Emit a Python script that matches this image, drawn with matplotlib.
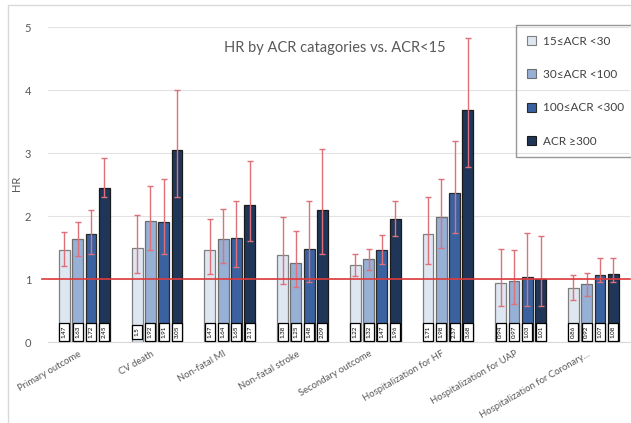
import matplotlib
matplotlib.use("Agg")
import matplotlib.pyplot as plt
import matplotlib.transforms as mtransforms
import numpy as np
from matplotlib.patches import Rectangle

plt.rcParams['font.family'] = ['Lato', 'DejaVu Sans']

categories = ["Primary outcome", "CV death", "Non-fatal MI", "Non-fatal stroke",
              "Secondary outcome", "Hospitalization for HF", "Hospitalization for UAP",
              "Hospitalization for Coronary..."]
series_names = ["15\u2264ACR <30", "30\u2264ACR <100", "100\u2264ACR <300", "ACR \u2265300"]

hr_15_30 = [1.47, 1.5, 1.47, 1.38, 1.22, 1.71, 0.94, 0.86]
hr_30_100 = [1.63, 1.92, 1.64, 1.25, 1.32, 1.98, 0.97, 0.92]
hr_100_300 = [1.72, 1.91, 1.65, 1.48, 1.47, 2.37, 1.03, 1.07]
hr_300 = [2.45, 3.05, 2.17, 2.09, 1.96, 3.68, 1.01, 1.08]

lo_15_30 = [1.21, 1.10, 1.09, 0.93, 1.05, 1.24, 0.58, 0.67]
hi_15_30 = [1.75, 2.02, 1.96, 1.99, 1.40, 2.31, 1.48, 1.06]
lo_30_100 = [1.37, 1.46, 1.25, 0.87, 1.15, 1.49, 0.61, 0.74]
hi_30_100 = [1.91, 2.48, 2.11, 1.77, 1.48, 2.59, 1.46, 1.10]
lo_100_300 = [1.40, 1.40, 1.20, 0.96, 1.24, 1.73, 0.58, 0.96]
hi_100_300 = [2.09, 2.59, 2.24, 2.24, 1.70, 3.20, 1.73, 1.33]
lo_300 = [2.30, 2.31, 1.61, 1.40, 1.69, 2.78, 0.58, 0.96]
hi_300 = [2.93, 4.00, 2.87, 3.07, 2.24, 4.82, 1.69, 1.34]

label_15_30 = ["1.47", "1.5", "1.47", "1.38", "1.22", "1.71", "0.94", "0.86"]
label_30_100 = ["1.63", "1.92", "1.64", "1.25", "1.32", "1.98", "0.97", "0.92"]
label_100_300 = ["1.72", "1.91", "1.65", "1.48", "1.47", "2.37", "1.03", "1.07"]
label_300 = ["2.45", "3.05", "2.17", "2.09", "1.96", "3.68", "1.01", "1.08"]

yticks = [0, 1, 2, 3, 4, 5]

series = [hr_15_30, hr_30_100, hr_100_300, hr_300]
lows = [lo_15_30, lo_30_100, lo_100_300, lo_300]
highs = [hi_15_30, hi_30_100, hi_100_300, hi_300]
labels = [label_15_30, label_30_100, label_100_300, label_300]
colors = ["#dde6f1", "#96b0d6", "#3a62a0", "#1f3659"]
edges = ["#7f7f7f", "#6f6f6f", "#2a2a2a", "#1a1a1a"]

fig = plt.figure(figsize=(6.31, 4.23), dpi=100)
ax = fig.add_axes([0.076, 0.191, 0.922, 0.745])

x = np.arange(len(categories))
step = 0.183
width = 0.15
for i, (vals, lo, hi, labs) in enumerate(zip(series, lows, highs, labels)):
    xi = x + (i - 1.5) * step
    ax.bar(xi, vals, width=width, color=colors[i], edgecolor=edges[i], linewidth=0.9,
           label=series_names[i], zorder=3)
    v = np.array(vals)
    yerr = [v - np.array(lo), np.array(hi) - v]
    ax.errorbar(xi, v, yerr=yerr, fmt='none', ecolor="#e07078", elinewidth=1.0,
                capsize=2.5, capthick=1.0, zorder=4)
    for xx, t in zip(xi, labs):
        ax.text(xx, 0.16, t, rotation=90, ha='center', va='center', fontsize=4.5,
                color='black', zorder=6,
                bbox=dict(boxstyle='square,pad=0.4', fc='white', ec='black', lw=0.9))

ax.axhline(1, color="#e03a3a", lw=1.2, zorder=5, xmin=-0.01, clip_on=False)

ax.set_xlim(-0.5, len(categories) - 0.5)
ax.set_ylim(0, 5)
ax.set_yticks(yticks)
ax.set_yticklabels([str(t) for t in yticks], fontsize=8, color="#595959")
ax.yaxis.grid(True, color="#e3e3e3", lw=0.8, zorder=0)
ax.set_axisbelow(True)
for s in ['top', 'right', 'left']:
    ax.spines[s].set_visible(False)
ax.spines['bottom'].set_color("#d9d9d9")
ax.tick_params(axis='y', length=0, pad=12)
ax.tick_params(axis='x', length=0, pad=5)
ax.set_xticks(x)
ax.set_xticklabels(categories, rotation=30, ha='right', rotation_mode='anchor',
                   fontsize=6.8, color="#595959")
offset = mtransforms.ScaledTranslation(-6 / 100, 0, fig.dpi_scale_trans)
for lab in ax.get_xticklabels():
    lab.set_transform(lab.get_transform() + offset)
ax.set_ylabel("HR", fontsize=8, color="#595959", labelpad=4)
ax.yaxis.set_label_coords(-0.045, 0.505)

fig.text(0.53, 0.886, "HR by ACR catagories vs. ACR<15", ha='center', va='center',
         fontsize=10.5, color="#595959")

leg = ax.legend(loc='upper left', bbox_to_anchor=(0.818, 0.941),
                bbox_transform=fig.transFigure, fontsize=8.5, frameon=True,
                handlelength=0.8, handleheight=0.8, labelspacing=1.9,
                borderpad=0.9, handletextpad=0.6, borderaxespad=0)
leg.get_frame().set_edgecolor("#7f7f7f")
leg.get_frame().set_facecolor('none')
leg.get_frame().set_linewidth(1.0)
leg.get_frame().set_boxstyle('square,pad=0')
for t in leg.get_texts():
    t.set_color("#404040")
for h in leg.legend_handles:
    h.set_linewidth(0.8)

# outer frame
fig.patches.append(Rectangle((8 / 631, -0.1), 1.1, (423 - 5) / 423 + 0.1,
                             transform=fig.transFigure, fill=False,
                             ec="#d9d9d9", lw=1.0))

fig.savefig("out.png", dpi=100)
